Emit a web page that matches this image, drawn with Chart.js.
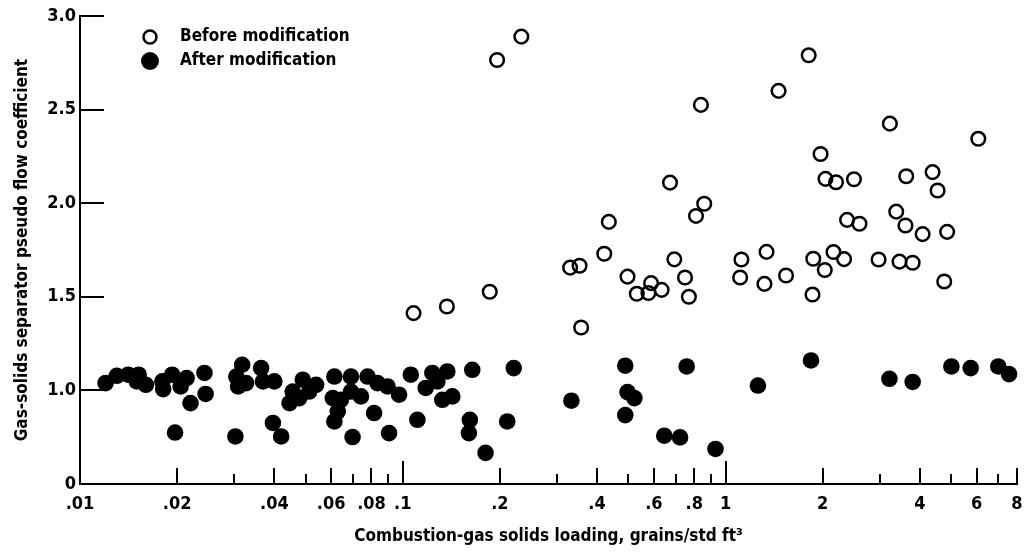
<!DOCTYPE html>
<html>
<head>
<meta charset="utf-8">
<script src="https://cdn.jsdelivr.net/npm/chart.js@4/dist/chart.umd.min.js"></script>
<style>
body { margin: 0; background: #fff; }
</style>
</head>
<body>
<canvas id="separator-chart" width="1027" height="554"></canvas>
<script>
// solids loading (grains/std ft3) vs pseudo flow coefficient
var beforeX = [0.233, 0.196, 0.673, 0.435, 0.421, 0.330, 0.353, 0.694, 0.497, 0.588,
    0.531, 0.577, 0.634, 0.749, 0.770, 0.186, 0.137, 0.108, 0.357, 1.81,
    1.46, 0.839, 3.23, 6.07, 1.97, 2.04, 2.20, 2.50, 3.63, 4.38,
    4.54, 0.859, 0.810, 2.38, 2.60, 3.38, 3.61, 4.08, 4.86, 1.12,
    1.11, 1.34, 1.32, 1.54, 1.87, 2.03, 1.86, 2.16, 2.33, 2.98,
    3.46, 3.80, 4.76];
var beforeY = [2.89, 2.765, 2.11, 1.90, 1.73, 1.656, 1.666, 1.70, 1.608, 1.573,
    1.516, 1.52, 1.537, 1.603, 1.50, 1.527, 1.448, 1.413, 1.336, 2.79,
    2.60, 2.525, 2.425, 2.344, 2.263, 2.13, 2.112, 2.128, 2.144, 2.166,
    2.068, 1.997, 1.932, 1.911, 1.89, 1.955, 1.881, 1.835, 1.847, 1.699,
    1.603, 1.74, 1.569, 1.614, 1.703, 1.643, 1.512, 1.739, 1.701, 1.699,
    1.688, 1.682, 1.582];

var afterX = [0.0120, 0.0130, 0.0141, 0.0152, 0.0150, 0.0160, 0.0180, 0.0193, 0.0181, 0.0205,
    0.0214, 0.0220, 0.0197, 0.0243, 0.0245, 0.0318, 0.0305, 0.0309, 0.0327, 0.0364,
    0.0369, 0.0400, 0.0456, 0.0490, 0.0446, 0.0478, 0.0513, 0.0396, 0.0420, 0.0303,
    0.0539, 0.0614, 0.0607, 0.0643, 0.0629, 0.0614, 0.0691, 0.0691, 0.0742, 0.0778,
    0.0835, 0.0897, 0.0974, 0.1059, 0.0815, 0.0907, 0.0699, 0.1110, 0.1235, 0.1374,
    0.1178, 0.1280, 0.1326, 0.1424, 0.1642, 0.2207, 0.1614, 0.1603, 0.2107, 0.1805,
    0.333, 0.489, 0.497, 0.522, 0.489, 0.646, 0.723, 0.758, 0.931, 1.26,
    1.84, 3.22, 3.80, 5.01, 5.75, 7.00, 7.56];
var afterY = [1.039, 1.078, 1.084, 1.084, 1.048, 1.030, 1.048, 1.084, 1.007, 1.021,
    1.066, 0.932, 0.775, 1.093, 0.981, 1.137, 1.074, 1.021, 1.039, 1.119,
    1.048, 1.048, 0.994, 1.057, 0.932, 0.959, 0.994, 0.826, 0.754, 0.754,
    1.030, 1.074, 0.959, 0.950, 0.888, 0.834, 1.074, 0.994, 0.968, 1.074,
    1.039, 1.021, 0.977, 1.084, 0.879, 0.772, 0.751, 0.843, 1.093, 1.101,
    1.013, 1.048, 0.950, 0.968, 1.110, 1.119, 0.843, 0.772, 0.834, 0.666,
    0.945, 1.132, 0.991, 0.959, 0.868, 0.758, 0.749, 1.128, 0.687, 1.026,
    1.160, 1.062, 1.045, 1.128, 1.119, 1.128, 1.087];

var seriesNames = ['Before modification', 'After modification'];

var xTickValues = [0.01, 0.02, 0.03, 0.04, 0.05, 0.06, 0.07, 0.08, 0.09,
    0.1, 0.2, 0.3, 0.4, 0.5, 0.6, 0.7, 0.8, 0.9,
    1, 2, 3, 4, 5, 6, 7, 8];
var xLabelValues = [0.01, 0.02, 0.04, 0.06, 0.08, 0.1, 0.2, 0.4, 0.6, 0.8, 1, 2, 4, 6, 8];
var xLabelText = ['.01', '.02', '.04', '.06', '.08', '.1', '.2', '.4', '.6', '.8', '1', '2', '4', '6', '8'];
var xDecades = [0.1, 1];

// broken axis: the bottom line is labelled 0
var yTickValues = [0.5, 1.0, 1.5, 2.0, 2.5, 3.0];
var yTickLabels = ['0', '1.0', '1.5', '2.0', '2.5', '3.0'];

var fontFamily = '"Liberation Sans Narrow", "DejaVu Sans Condensed", "Liberation Sans", sans-serif';

function pairs(xs, ys) {
    return xs.map(function(x, i) { return { x: x, y: ys[i] }; });
}

// inward tick marks like the printed figure
var tickMarks = {
    id: 'tickMarks',
    beforeDatasetsDraw: function(chart) {
        var ctx = chart.ctx;
        var xs = chart.scales.x, ys = chart.scales.y;
        ctx.save();
        ctx.strokeStyle = '#000';
        ctx.lineWidth = 2;
        ctx.beginPath();
        xTickValues.forEach(function(v) {
            if (v === xs.min) return;
            var px = Math.round(xs.getPixelForValue(v));
            var len = 10;
            if (xDecades.indexOf(v) >= 0) len = 23;
            else if (xLabelValues.indexOf(v) >= 0) len = 16;
            ctx.moveTo(px, xs.top);
            ctx.lineTo(px, xs.top - len);
        });
        yTickValues.forEach(function(v) {
            if (v === ys.min) return;
            var py = Math.round(ys.getPixelForValue(v));
            ctx.moveTo(ys.right, py);
            ctx.lineTo(ys.right + 24, py);
        });
        ctx.stroke();
        ctx.restore();
    }
};

// key sits inside the plot, top left
var cornerLegend = {
    id: 'cornerLegend',
    afterDraw: function(chart) {
        var ctx = chart.ctx, area = chart.chartArea;
        ctx.save();
        ctx.font = 'bold 17px ' + fontFamily;
        ctx.textBaseline = 'middle';
        ctx.textAlign = 'left';
        chart.data.datasets.forEach(function(ds, i) {
            var cx = area.left + 70;
            var cy = area.top + 21 + i * 24;
            ctx.beginPath();
            if (ds.pointBorderWidth > 0) {
                ctx.arc(cx, cy, 6.5, 0, Math.PI * 2);
                ctx.lineWidth = ds.pointBorderWidth;
                ctx.strokeStyle = ds.pointBorderColor;
                ctx.stroke();
            } else {
                ctx.arc(cx, cy, 9, 0, Math.PI * 2);
                ctx.fillStyle = ds.pointBackgroundColor;
                ctx.fill();
            }
            ctx.fillStyle = '#000';
            ctx.fillText(ds.label, cx + 30, cy);
        });
        ctx.restore();
    }
};

Chart.defaults.color = '#000';
Chart.defaults.font.family = fontFamily;

var separatorChart = new Chart(document.getElementById('separator-chart'), {
    type: 'scatter',
    data: {
        datasets: [{
            label: seriesNames[0],
            data: pairs(beforeX, beforeY),
            pointRadius: 6.8,
            pointBorderWidth: 2.5,
            pointBorderColor: '#000',
            pointBackgroundColor: 'rgba(0,0,0,0)',
            clip: false
        }, {
            label: seriesNames[1],
            data: pairs(afterX, afterY),
            pointRadius: 8.3,
            pointBorderWidth: 0,
            pointBorderColor: '#000',
            pointBackgroundColor: '#000',
            clip: false
        }]
    },
    options: {
        responsive: false,
        animation: false,
        layout: { padding: { top: 16, right: 10, left: 0, bottom: 0 } },
        plugins: {
            legend: { display: false },
            tooltip: { enabled: false }
        },
        scales: {
            x: {
                type: 'logarithmic',
                min: 0.01,
                max: 8,
                afterBuildTicks: function(scale) {
                    scale.ticks = xTickValues.map(function(v) { return { value: v }; });
                },
                afterFit: function(scale) {
                    scale.height = 70;
                    scale.paddingLeft = 0;
                    scale.paddingRight = 0;
                },
                ticks: {
                    autoSkip: false,
                    maxRotation: 0,
                    padding: 10,
                    font: { size: 18, weight: 'bold' },
                    callback: function(value) {
                        var i = xLabelValues.indexOf(value);
                        return i >= 0 ? xLabelText[i] : '';
                    }
                },
                grid: { display: false, drawTicks: false },
                border: { display: true, color: '#000', width: 2 },
                title: {
                    display: true,
                    text: 'Combustion-gas solids loading, grains/std ft\u00b3',
                    font: { size: 17, weight: 'bold' },
                    padding: { top: 0, bottom: 7 }
                }
            },
            y: {
                type: 'linear',
                min: 0.5,
                max: 3.0,
                afterBuildTicks: function(scale) {
                    scale.ticks = yTickValues.map(function(v) { return { value: v }; });
                },
                afterFit: function(scale) { scale.width = 80; },
                ticks: {
                    padding: 4,
                    font: { size: 18, weight: 'bold' },
                    callback: function(value) {
                        var i = yTickValues.indexOf(value);
                        return i >= 0 ? yTickLabels[i] : '';
                    }
                },
                grid: { display: false, drawTicks: false },
                border: { display: true, color: '#000', width: 2 },
                title: {
                    display: true,
                    text: 'Gas-solids separator pseudo flow coefficient',
                    font: { size: 17, weight: 'bold' },
                    padding: { top: 12, bottom: 0 }
                }
            }
        }
    },
    plugins: [tickMarks, cornerLegend]
});
</script>
</body>
</html>
